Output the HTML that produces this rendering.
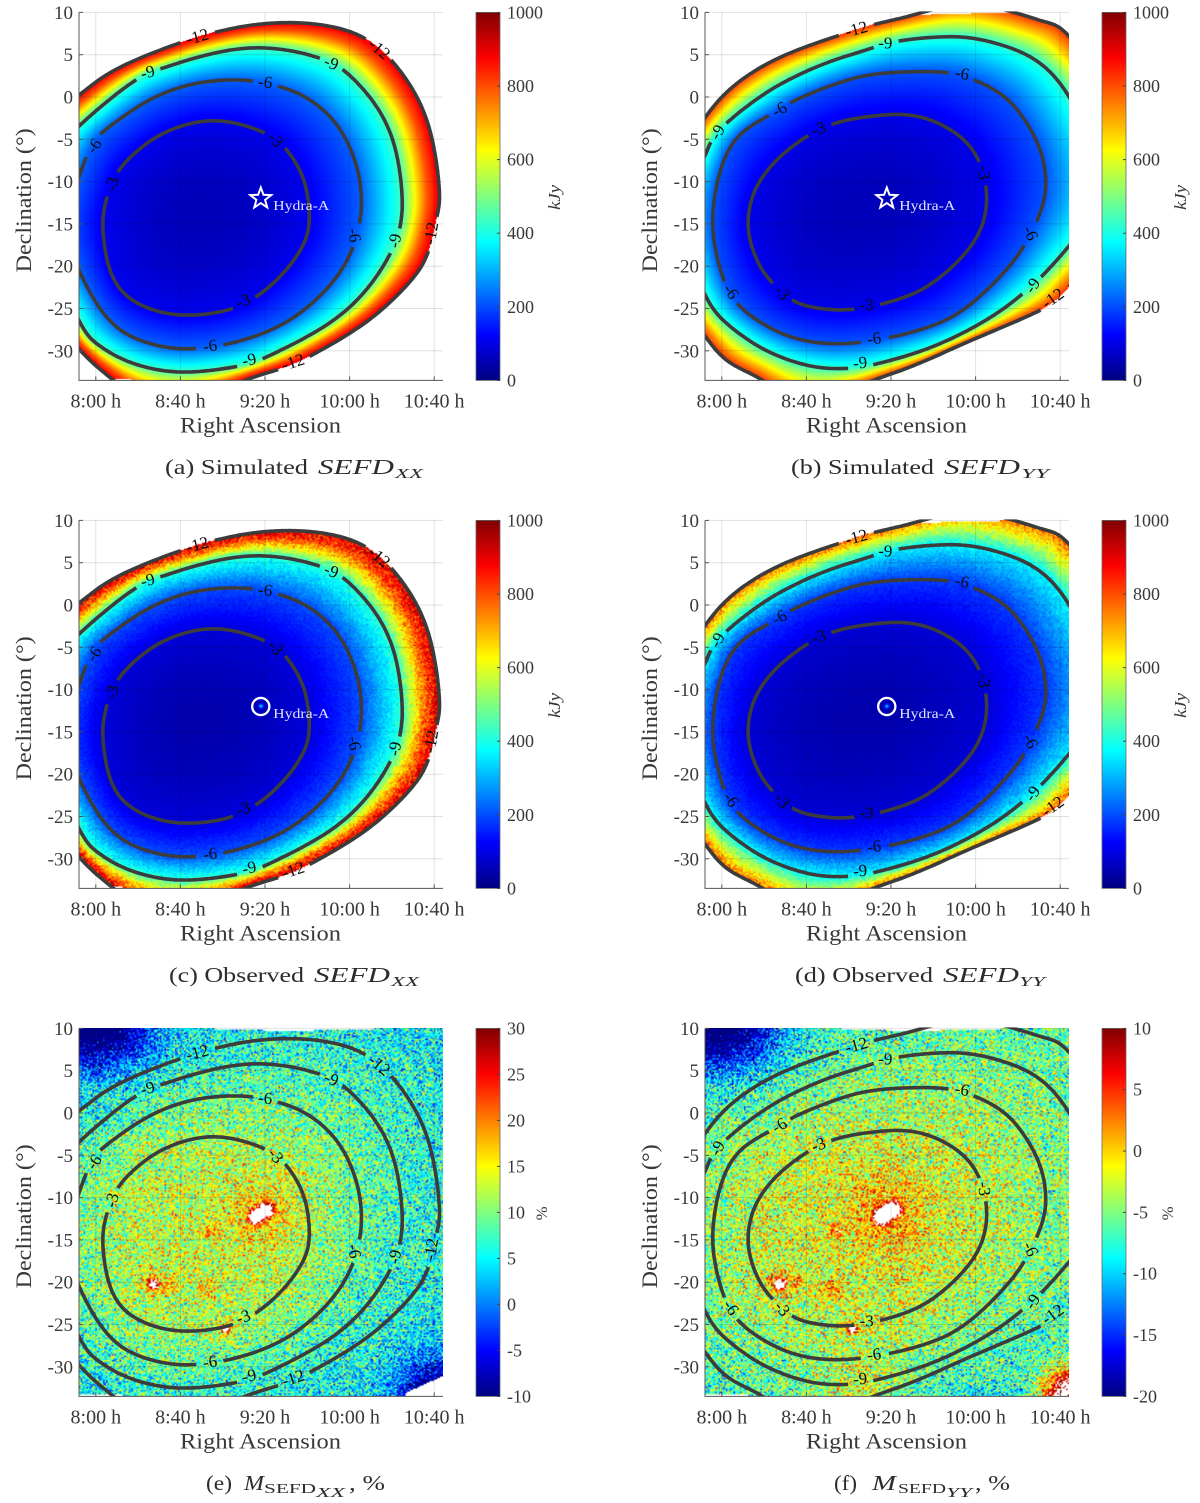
<!DOCTYPE html>
<html lang="en">
<head>
<meta charset="utf-8">
<title>Simulated and observed SEFD maps</title>
<style>
html,body{margin:0;padding:0;background:#fff}
#figure{position:relative;width:1200px;height:1503px;overflow:hidden;background:#fff}
#figure canvas{position:absolute;display:block}
#overlay{position:absolute;left:0;top:0;width:1200px;height:1503px;filter:blur(.3px)}
text{font-family:"Liberation Serif",serif;fill:#383838}
.cap{font-size:21px;fill:#2c2c2c}
.capi{font-size:21px;font-style:italic;fill:#2c2c2c}
.sub{font-size:14px;font-style:italic;fill:#2c2c2c}
.rom{font-size:14px;fill:#2c2c2c}
</style>
</head>
<body>
<div id="figure">
<svg id="overlay" xmlns="http://www.w3.org/2000/svg" width="1200" height="1503" viewBox="0 0 1200 1503">
  <defs>
    <linearGradient id="jetGradient" x1="0" y1="1" x2="0" y2="0">
      <stop offset="0" stop-color="#000080"/><stop offset=".125" stop-color="#0000ff"/>
      <stop offset=".375" stop-color="#00ffff"/><stop offset=".625" stop-color="#ffff00"/>
      <stop offset=".875" stop-color="#ff0000"/><stop offset="1" stop-color="#800000"/>
    </linearGradient>
  </defs>
  <g>
    <text class="cap" x="165" y="474" textLength="143">(a) Simulated</text>
    <text class="capi" x="318" y="474" textLength="76">SEFD</text>
    <text class="sub" x="395" y="478" textLength="28">XX</text>
  </g>
  <g>
    <text class="cap" x="791" y="474" textLength="143">(b) Simulated</text>
    <text class="capi" x="944" y="474" textLength="76">SEFD</text>
    <text class="sub" x="1021" y="478" textLength="28">YY</text>
  </g>
  <g>
    <text class="cap" x="169" y="982" textLength="135">(c) Observed</text>
    <text class="capi" x="314" y="982" textLength="76">SEFD</text>
    <text class="sub" x="391" y="986" textLength="28">XX</text>
  </g>
  <g>
    <text class="cap" x="795" y="982" textLength="138">(d) Observed</text>
    <text class="capi" x="943" y="982" textLength="76">SEFD</text>
    <text class="sub" x="1019" y="986" textLength="26">YY</text>
  </g>
  <g>
    <text class="cap" x="206" y="1490" textLength="26">(e)</text>
    <text class="capi" x="244" y="1490" textLength="20">M</text>
    <text class="rom" x="264" y="1493" textLength="52">SEFD</text>
    <text class="sub" x="316" y="1497" textLength="29">XX</text>
    <text class="cap" x="349" y="1490" textLength="36">, %</text>
  </g>
  <g>
    <text class="cap" x="834" y="1490" textLength="23">(f)</text>
    <text class="capi" x="872" y="1490" textLength="24">M</text>
    <text class="rom" x="898" y="1493" textLength="48">SEFD</text>
    <text class="sub" x="946" y="1497" textLength="26">YY</text>
    <text class="cap" x="975" y="1490" textLength="35">, %</text>
  </g>
</svg>
</div>
<script>
/* ---------- Axis data ---------- */
const raTickMinutes = [0, 40, 80, 120, 160];            // minutes after 8:00 h
const raTickLabels = ["8:00 h", "8:40 h", "9:20 h", "10:00 h", "10:40 h"];
const decTicks = [10, 5, 0, -5, -10, -15, -20, -25, -30];
const sefdTicks = [0, 200, 400, 600, 800, 1000];
const residualXXTicks = [-10, -5, 0, 5, 10, 15, 20, 25, 30];
const residualYYTicks = [-20, -15, -10, -5, 0, 5, 10];
const contourLevels = [-3, -6, -9, -12];

/* ---------- XX beam contours: [minutes after 8:00 h, declination] ---------- */
const xxCentre = [50.7, -13.77];
const xxMinus3 = [[57.1,-2.65],[79.7,-4.15],[90.6,-6.3],[98.7,-9.84],[101.1,-14.16],[98.7,-17.3],[88.8,-20.84],[76.1,-23.6],[63.4,-25.17],[45.3,-25.83],[29,-25.36],[14.5,-23.6],[6.3,-20.45],[3.1,-15.34],[4.9,-12.2],[10,-8.86],[21.7,-5.9],[36.2,-3.75]];
const xxMinus6 = [[70.7,2.02],[85.1,1.36],[99.6,-0.02],[114.1,-3.16],[123.2,-7.88],[125.9,-12.99],[121.4,-18.09],[110.5,-22.4],[92.4,-26.35],[70.7,-28.7],[47.1,-29.8],[27.2,-29.3],[7.2,-26.9],[-7.8,-20.65],[-14.5,-14.95],[-7.8,-9.45],[-1.8,-5.5],[7.2,-3.36],[27.2,-0.02],[48.9,1.75]];
const xxMinus9 = [[72.5,5.87],[92.4,5.48],[106.9,4.5],[117.8,3.12],[132.2,-0.8],[141.3,-5.52],[144.9,-11.41],[144,-15.34],[138.6,-18.88],[126.8,-23.2],[108.7,-27.13],[79.7,-30.86],[67,-31.85],[39.9,-32.63],[16.3,-31.45],[0,-29.1],[-7.8,-26.54],[-21.7,-18.1],[-21.7,-8.27],[-7.8,-3.36],[18.1,1.95],[30.8,3.32],[50.7,4.89]];
const xxMinus12 = [[94.2,8.82],[112.3,8.31],[126.8,7.05],[139.5,4.5],[152.2,-0.02],[159.4,-5.13],[162.7,-11.41],[161.2,-14.16],[156.7,-18.88],[146.7,-22.4],[126.8,-26.93],[99.6,-30.86],[88.8,-32.04],[70.7,-33.4],[52.5,-35.38],[27.2,-36.56],[6.3,-33.03],[-7.8,-29.88],[-23.6,-23.99],[-30.8,-14.16],[-27.2,-4.34],[-7.8,0.18],[9.1,3.32],[38,6.27],[56.2,7.64],[74.3,8.55]];
/* Contour label: [level, minutes, declination] */
const xxLabels = [[-12,48,7.13],[-12,134.1,5.68],[-12,158.5,-16.13],[-12,93.3,-31.34],[-9,24.5,2.93],[-9,111.4,4.03],[-9,141.3,-16.99],[-9,72.5,-31.06],[-6,-0.9,-5.8],[-6,80.1,1.75],[-6,122.3,-16.33],[-6,54,-29.41],[-3,85.1,-5.05],[-3,7.6,-10.31],[-3,69.7,-24.11]];
const xxLabelTilt = [-15,40,-80,-18,-15,20,-80,-12,-55,5,80,-8,50,-75,-20];

/* ---------- YY beam contours ---------- */
const yyCentre = [65.4, -13.3];
const yyMinus3 = [[79.4,-2.06],[89.9,-2.17],[100.4,-2.85],[112.7,-4.62],[121.1,-7.19],[125.3,-10.95],[124.1,-14.5],[117.9,-17.67],[105.7,-20.83],[91.7,-23.2],[74.1,-24.58],[65.4,-24.98],[56.6,-25.18],[46.1,-24.98],[33.8,-24.19],[23.3,-21.82],[17.2,-19.64],[12.8,-16.48],[12.8,-13.32],[17.2,-10.16],[26.8,-7.19],[39.1,-4.82],[49.6,-3.44],[61.9,-2.57]];
const yyMinus6 = [[91.7,3],[106.6,2.89],[118.8,2.09],[133.7,0.12],[144.2,-3.04],[151.2,-6.6],[153.3,-10.16],[151.2,-13.32],[142.5,-17.87],[130.2,-21.62],[114.4,-25.18],[98.7,-27.15],[77.6,-28.54],[56.6,-29.21],[37.3,-28.74],[21.6,-27.15],[7.5,-24.58],[0.5,-21.42],[-3.3,-17.67],[-4.4,-14.5],[-2.6,-10.55],[2.3,-6.6],[11,-3.83],[25.1,-1.86],[33.8,-0.47],[53.1,1.5],[70.6,2.69]];
const yyMinus9 = [[105.7,7.15],[119.7,6.92],[133.7,6.05],[149.5,4.27],[164,0.32],[177.5,-7.39],[175.8,-13.32],[164,-17.67],[151.2,-21.23],[142.5,-23.2],[126.7,-26.17],[100.4,-29.53],[74.1,-31.5],[60.1,-32.09],[42.6,-31.9],[21.6,-30.12],[4,-27.15],[-7.9,-23.68],[-18.8,-15.3],[-15.2,-10.55],[-7.9,-7],[-4.7,-5.02],[3.2,-2.85],[16.3,-0.28],[30.3,1.9],[49.6,4.07],[67.1,5.45],[82.9,6.64]];
const yyMinus12 = [[89.9,9.6],[114.4,11.19],[138.1,10],[153,8.81],[164,7.43],[186.3,-1.46],[188,-13.32],[164,-22.6],[149.5,-25.38],[117.9,-28.74],[91.7,-31.7],[68.9,-33.68],[39.1,-36.25],[18.9,-33.28],[4,-31.5],[-7.9,-28.34],[-29.3,-19.25],[-27.5,-11.34],[-7.9,-2.25],[9.3,2.09],[30.3,5.06],[54.9,7.23],[70.6,8.5]];
const yyLabels = [[-12,63.6,8.02],[-12,156.5,-23.79],[-9,-2.1,-4.15],[-9,77.3,6.36],[-9,146.9,-22.29],[-9,65.4,-31.42],[-6,27.2,-1.46],[-6,113.6,2.77],[-6,146,-16.09],[-6,4.4,-23],[-6,72,-28.54],[-3,45.7,-3.75],[-3,124.1,-8.97],[-3,28.6,-23.12],[-3,68.5,-24.58]];
const yyLabelTilt = [-15,-35,-60,0,-55,-5,-30,10,65,55,-8,-20,85,50,0];

/* ---------- Heatmap value profiles vs beam attenuation (dB) ---------- */
const sefdDb = [0, -3, -6, -9, -10, -11, -12];
const simulatedXXKjy = [55, 110, 219, 436, 620, 790, 900];
const simulatedYYKjy = [55, 105, 205, 420, 560, 700, 830];
const observedXXKjy = [45, 90, 200, 420, 620, 800, 920];
const observedYYKjy = [45, 85, 180, 370, 500, 640, 780];
const residualDb = [0, -3, -6, -9, -12, -18, -22, -27];
const residualXXPercent = [13, 11.5, 9, 7, 6, 4.5, 3.5, 3];
const residualYYPercent = [-2, -3, -4.5, -5.5, -6.5, -7, -8, -9];

/* Sky sources: [minutes, declination, peak, sigma in degrees] */
const hydraPosition = [78, -12];
const observedSources = [[78, -12, 300, 0.17]];
const residualSources = [[75.5,-12.3,38,0.55],[80.5,-11.5,38,0.55],[78,-12,4,3.2],[27.3,-20.3,30,0.4],[27.3,-20.3,4,1.2],[61.6,-25.6,25,0.3],[61.6,-25.6,4,0.9],[54,-14,6,0.6],[52.5,-20.6,5,0.8],[36,-20,5,0.5]];
const residualXXCornerSources = [[-8,10,-15,3.6],[14,10,-9,3.4],[160,-33,-15,2.8]];
const residualYYCornerSources = [[-8,10,-14,3.6],[14,10,-8,3.4],[164,-33.5,25,2.2],[65,-33.5,4,3]];

/* Areas with no data: [minutes, declination] */
const topMissing = [[-10,10.5],[20,10.2],[90,9.65],[138,9.95],[170,10.2],[170,10.5]];
const bottomLeftMissing = [[-10,-33.25],[25,-33.5],[-10,-33.6]];
const bottomRightMissingXX = [[146,-33.6],[146.7,-33.1],[164.3,-31.1],[170,-31.1],[170,-33.6]];

/* ---------- Layout ---------- */
const columnLeft = [79, 705];
const rowTop = [12.4, 520.4, 1028.4];
const axisW = 364, axisH = 368;
const pxPerMinute = 2.115, pxPerDegree = 8.46, minuteOffsetPx = 16.8;
const svgNS = "http://www.w3.org/2000/svg";
const overlay = document.getElementById("overlay");

function make(tag, parent, attrs, txt) {
  const n = document.createElementNS(svgNS, tag);
  for (const k in attrs) n.setAttribute(k, attrs[k]);
  if (txt !== undefined) n.textContent = txt;
  parent.appendChild(n);
  return n;
}
function jet(value) {
  const v = Math.max(0, Math.min(1, value));
  const c = x => Math.max(0, Math.min(1, x));
  return [c(Math.min(4*v-1.5, -4*v+4.5)), c(Math.min(4*v-.5, -4*v+3.5)), c(Math.min(4*v+.5, -4*v+2.5))];
}
function interp(xs, ys, x) {             // xs descending
  if (x >= xs[0]) return ys[0];
  for (let i = 1; i < xs.length; i++) {
    if (x >= xs[i]) return ys[i-1] + (ys[i]-ys[i-1]) * (xs[i-1]-x) / (xs[i-1]-xs[i]);
  }
  return ys[ys.length-1];
}
/* Deterministic speckle texture: visual grain only, not data */
function grain(i, j, s) {
  const h = (a, b) => { const q = Math.sin(a*127.1 + b*311.7 + s) * 43758.5453; return q - Math.floor(q); };
  return h(i, j) + h(i+17, j+5) + h(i+3, j+29) - 1.5;
}
function closedSpline(points) {
  const raw = [], n = points.length;
  for (let i = 0; i < n; i++) {
    const p0 = points[(i-1+n)%n], p1 = points[i], p2 = points[(i+1)%n], p3 = points[(i+2)%n];
    for (let k = 0; k < 16; k++) {
      const t = k/16, t2 = t*t, t3 = t2*t;
      raw.push([
        .5*(2*p1[0] + (p2[0]-p0[0])*t + (2*p0[0]-5*p1[0]+4*p2[0]-p3[0])*t2 + (3*p1[0]-p0[0]-3*p2[0]+p3[0])*t3),
        .5*(2*p1[1] + (p2[1]-p0[1])*t + (2*p0[1]-5*p1[1]+4*p2[1]-p3[1])*t2 + (3*p1[1]-p0[1]-3*p2[1]+p3[1])*t3)
      ]);
    }
  }
  /* circular moving average removes kinks from hand-read points */
  const m = raw.length, half = 8, out = [];
  for (let i = 0; i < m; i++) {
    let sx = 0, sy = 0;
    for (let k = -half; k <= half; k++) {
      const q = raw[(i+k+m)%m];
      sx += q[0]; sy += q[1];
    }
    out.push([sx/(2*half+1), sy/(2*half+1)]);
  }
  return out;
}
const BINS = 1440;
function radialTable(curve, centre) {
  const tbl = new Float32Array(BINS);
  const polar = curve.map(p => {
    const dx = (p[0]-centre[0])*pxPerMinute, dy = (centre[1]-p[1])*pxPerDegree;
    return [Math.atan2(dy, dx), Math.hypot(dx, dy)];
  });
  for (let i = 0; i < polar.length; i++) {
    const a = polar[i], b = polar[(i+1)%polar.length];
    let da = b[0]-a[0];
    if (da > Math.PI) da -= 2*Math.PI;
    if (da < -Math.PI) da += 2*Math.PI;
    const steps = Math.max(1, Math.ceil(Math.abs(da)/(2*Math.PI)*BINS)+1);
    for (let k = 0; k <= steps; k++) {
      const f = k/steps, ang = a[0]+da*f;
      let bin = Math.floor((ang+Math.PI)/(2*Math.PI)*BINS) % BINS;
      if (bin < 0) bin += BINS;
      const r = a[1]+(b[1]-a[1])*f;
      if (r > tbl[bin]) tbl[bin] = r;
    }
  }
  for (let i = 0; i < BINS; i++) if (!tbl[i]) tbl[i] = tbl[(i-1+BINS)%BINS];
  return tbl;
}
function buildBeam(centre, polys, labels, tilts) {
  const curves = polys.map(closedSpline);
  return {centre, curves, labels, tilts, tables: curves.map(c => radialTable(c, centre))};
}
const xxBeam = buildBeam(xxCentre, [xxMinus3, xxMinus6, xxMinus9, xxMinus12], xxLabels, xxLabelTilt);
const yyBeam = buildBeam(yyCentre, [yyMinus3, yyMinus6, yyMinus9, yyMinus12], yyLabels, yyLabelTilt);

function beamDb(beam, dx, dy) {
  const r = Math.hypot(dx, dy);
  let bin = Math.floor((Math.atan2(dy, dx)+Math.PI)/(2*Math.PI)*BINS) % BINS;
  if (bin < 0) bin += BINS;
  const t = beam.tables, r3 = t[0][bin], r6 = t[1][bin], r9 = t[2][bin], r12 = t[3][bin];
  if (r < r3) { const q = r/r3; return -3*q*q; }
  if (r < r6) return -3 - 3*(r-r3)/(r6-r3);
  if (r < r9) return -6 - 3*(r-r6)/(r9-r6);
  if (r < r12) return -9 - 3*(r-r9)/(r12-r9);
  return -12 - 3*(r-r12)/Math.max(8, r12-r9);
}
function inPolygon(poly, x, y) {
  let inside = false;
  for (let i = 0, j = poly.length-1; i < poly.length; j = i++) {
    const a = poly[i], b = poly[j];
    if ((a[1] > y) !== (b[1] > y) && x < (b[0]-a[0])*(y-a[1])/(b[1]-a[1])+a[0]) inside = !inside;
  }
  return inside;
}

/* ---------- Panels ---------- */
const panels = [
  {name:"panel-a-simulated-xx", col:0, row:0, beam:xxBeam, xs:sefdDb, ys:simulatedXXKjy, lo:0, hi:1000, ticks:sefdTicks, unit:"kJy", mask:true, noise:0, rel:0, cell:1, sources:[], marker:"star", missing:[]},
  {name:"panel-b-simulated-yy", col:1, row:0, beam:yyBeam, xs:sefdDb, ys:simulatedYYKjy, lo:0, hi:1000, ticks:sefdTicks, unit:"kJy", mask:true, noise:0, rel:0, cell:1, sources:[], marker:"star", missing:[]},
  {name:"panel-c-observed-xx", col:0, row:1, beam:xxBeam, xs:sefdDb, ys:observedXXKjy, lo:0, hi:1000, ticks:sefdTicks, unit:"kJy", mask:true, noise:0, rel:.07, cell:1.5, sources:observedSources, marker:"circle", missing:[]},
  {name:"panel-d-observed-yy", col:1, row:1, beam:yyBeam, xs:sefdDb, ys:observedYYKjy, lo:0, hi:1000, ticks:sefdTicks, unit:"kJy", mask:true, noise:0, rel:.07, cell:1.5, sources:observedSources, marker:"circle", missing:[]},
  {name:"panel-e-residual-xx", col:0, row:2, beam:xxBeam, xs:residualDb, ys:residualXXPercent, lo:-10, hi:30, ticks:residualXXTicks, unit:"%", mask:false, noise:4.6, rel:0, cell:1.5, sources:residualSources.concat(residualXXCornerSources), marker:"", missing:[bottomRightMissingXX]},
  {name:"panel-f-residual-yy", col:1, row:2, beam:yyBeam, xs:residualDb, ys:residualYYPercent, lo:-20, hi:10, ticks:residualYYTicks, unit:"%", mask:false, noise:3.6, rel:0, cell:1.5, sources:residualSources.concat(residualYYCornerSources), marker:"", missing:[]}
];

function drawHeatmap(p, left, top) {
  const cv = document.createElement("canvas");
  
  
  const W = Math.round(axisW/p.cell), H = Math.round(axisH/p.cell);
  cv.width = W; cv.height = H;
  cv.style.left = left+"px"; cv.style.top = top+"px";
  cv.style.width = axisW+"px"; cv.style.height = axisH+"px";
  const ctx = cv.getContext("2d"), img = ctx.createImageData(W, H), d = img.data;
  const cx = minuteOffsetPx + p.beam.centre[0]*pxPerMinute, cy = (10-p.beam.centre[1])*pxPerDegree;
  const missing = [topMissing, bottomLeftMissing].concat(p.missing);
  for (let j = 0; j < H; j++) {
    for (let i = 0; i < W; i++) {
      const px = (i+.5)*axisW/W, py = (j+.5)*axisH/H;
      const t = (px-minuteOffsetPx)/pxPerMinute, dec = 10-py/pxPerDegree;
      const db = beamDb(p.beam, px-cx, py-cy);
      if (p.mask && db < -12) continue;
      let off = false;
      for (const m of missing) if (inPolygon(m, t, dec)) off = true;
      if (off) continue;
      let v = interp(p.xs, p.ys, db);
      for (const s of p.sources) {
        const ddx = (t-s[0])*pxPerMinute/pxPerDegree, ddy = dec-s[1];
        v += s[2]*Math.exp(-(ddx*ddx+ddy*ddy)/(2*s[3]*s[3]));
      }
      if (p.noise) v += grain(i, j, p.col*7+p.row)*p.noise*2;
      if (p.rel) v *= 1 + grain(i, j, p.col*7+p.row)*p.rel*2;
      if (!p.mask && v > p.hi) continue;
      const c = jet((v-p.lo)/(p.hi-p.lo)), o = 4*(j*W+i);
      d[o] = c[0]*255; d[o+1] = c[1]*255; d[o+2] = c[2]*255; d[o+3] = 255;
    }
  }
  ctx.putImageData(img, 0, 0);
  document.getElementById("figure").insertBefore(cv, overlay);
}

function drawPanel(p, index) {
  const left = columnLeft[p.col], top = rowTop[p.row], bottom = top+axisH, right = left+axisW;
  const X = m => left + minuteOffsetPx + m*pxPerMinute;
  const Y = d => top + (10-d)*pxPerDegree;
  drawHeatmap(p, left, top);

  const g = make("g", overlay, {});
  
  

  /* grid */
  raTickMinutes.forEach(m => {
    const l = make("line", g, {x1:X(m), x2:X(m), y1:top, y2:bottom, stroke:"#000", "stroke-opacity":.12, "stroke-width":1});
    
    
  });
  decTicks.forEach(d => {
    const l = make("line", g, {x1:left, x2:right, y1:Y(d), y2:Y(d), stroke:"#000", "stroke-opacity":.12, "stroke-width":1});
    
    
  });

  /* contours */
  const clipId = "clip"+index;
  const clip = make("clipPath", g, {id:clipId});
  make("rect", clip, {x:left, y:top-1, width:axisW, height:axisH+1});
  const cg = make("g", g, {"clip-path":"url(#"+clipId+")"});
  
  
  p.beam.curves.forEach((curve, ci) => {
    let path = "", pen = false;
    const pts = curve.concat([curve[0]]);
    pts.forEach(q => {
      const x = X(q[0]), y = Y(q[1]);
      let gap = false;
      p.beam.labels.forEach(L => {
        if (L[0] !== contourLevels[ci]) return;
        const radius = L[0] === -12 ? 16 : 12;
        if (Math.hypot(x-X(L[1]), y-Y(L[2])) < radius) gap = true;
      });
      if (gap) { pen = false; return; }
      path += (pen ? "L" : "M") + x.toFixed(1) + " " + y.toFixed(1);
      pen = true;
    });
    const c = make("path", cg, {d:path, fill:"none", stroke:"#3c3c3c", "stroke-width":3.6});
    
    
  });
  p.beam.labels.forEach((L, li) => {
    const x = X(L[1]), y = Y(L[2]);
    const t = make("text", g, {x:x, y:y+5.5, "text-anchor":"middle", "font-size":17, transform:"rotate("+p.beam.tilts[li]+" "+x+" "+y+")", style:"fill:#0c0c0c"}, String(L[0]));
    
    
  });

  /* source marker */
  if (p.marker) {
    const hx = X(hydraPosition[0]), hy = Y(hydraPosition[1]);
    if (p.marker === "star") {
      let pts = "";
      for (let k = 0; k < 10; k++) {
        const r = k%2 ? 4.6 : 11, a = -Math.PI/2 + k*Math.PI/5;
        pts += (hx+r*Math.cos(a)).toFixed(1)+","+(hy+r*Math.sin(a)).toFixed(1)+" ";
      }
      const s = make("polygon", g, {points:pts, fill:"none", stroke:"#fff", "stroke-width":2});
      
      
    } else {
      const s = make("circle", g, {cx:hx, cy:hy, r:8.6, fill:"none", stroke:"#fff", "stroke-width":2.3});
      
      
    }
    const t = make("text", g, {x:hx+12.5, y:hy+11.5, "font-size":14, textLength:56, style:"fill:#dfe6ff"}, "Hydra-A");
    
    
  }

  /* axes */
  const ax = make("path", g, {d:"M"+left+" "+top+"V"+bottom+"H"+right, fill:"none", stroke:"#555", "stroke-width":1});
  
  
  raTickMinutes.forEach((m, i) => {
    const tk = make("line", g, {x1:X(m), x2:X(m), y1:bottom, y2:bottom-4, stroke:"#555"});
    
    
    const t = make("text", g, {x:X(m), y:bottom+27, "text-anchor":"middle", "font-size":20}, raTickLabels[i]);
    
    
  });
  decTicks.forEach(d => {
    const tk = make("line", g, {x1:left, x2:left+4, y1:Y(d), y2:Y(d), stroke:"#555"});
    
    
    const t = make("text", g, {x:left-6, y:Y(d)+6.5, "text-anchor":"end", "font-size":19}, String(d));
    
    
  });
  const xt = make("text", g, {x:left+101, y:bottom+52, "font-size":22, textLength:161}, "Right Ascension");
  
  
  const yc = top+188;
  const yt = make("text", g, {x:left-48, y:yc, "text-anchor":"middle", "font-size":22, textLength:144, transform:"rotate(-90 "+(left-48)+" "+yc+")"}, "Declination (\u00B0)");
  
  

  /* colour bar */
  const bx = left+397, bw = 24;
  const bar = make("rect", g, {x:bx, y:top, width:bw, height:axisH, fill:"url(#jetGradient)", stroke:"#666", "stroke-width":.8});
  
  
  p.ticks.forEach(v => {
    const y = bottom-(v-p.lo)/(p.hi-p.lo)*axisH;
    const tk = make("line", g, {x1:bx+bw-3, x2:bx+bw, y1:y, y2:y, stroke:"#444"});
    
    
    const t = make("text", g, {x:bx+bw+7, y:y+6, "font-size":18}, String(v));
    
    
  });
  const ux = p.unit === "%" ? left+468 : left+481, uy = top+185;
  const u = make("text", g, {x:ux, y:uy, "text-anchor":"middle", "font-size":p.unit === "%" ? 16 : 17, "font-style":p.unit === "%" ? "normal" : "italic", textLength:p.unit === "%" ? 14 : 25, transform:"rotate(-90 "+ux+" "+uy+")"}, p.unit);
  
  
}
panels.forEach(drawPanel);
/* stretch glyphs rather than letter-space when fitting a text width */
overlay.querySelectorAll("text").forEach(t => {
  if (t.hasAttribute("textLength")) t.setAttribute("lengthAdjust", "spacingAndGlyphs");
});
</script>
</body>
</html>
